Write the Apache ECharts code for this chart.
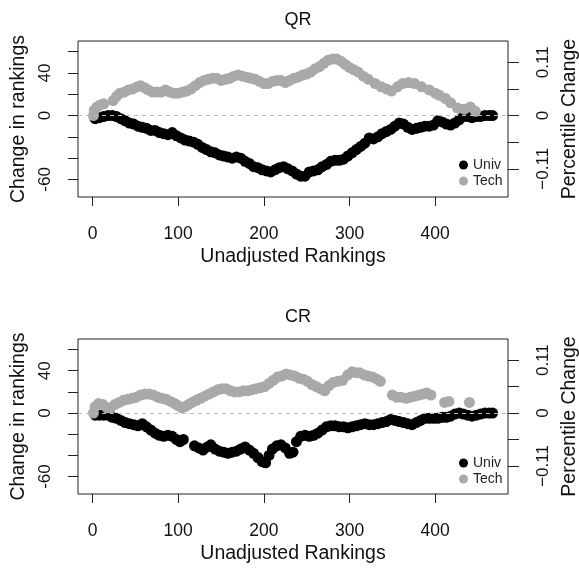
<!DOCTYPE html>
<html>
<head>
<meta charset="utf-8">
<script src="https://cdn.jsdelivr.net/npm/echarts@6/dist/echarts.min.js"></script>
<style>
  html, body { margin: 0; padding: 0; background: #fff; }
  #chart { width: 579px; height: 569px; }
</style>
</head>
<body>
<div id="chart"></div>
<script>
// QR panel
const qrUnivRank = [3, 8, 13, 18, 23, 28, 33, 38, 43, 48, 53, 58, 63, 68, 73, 78, 83, 88, 93, 98, 103, 108, 113, 118, 123, 128, 133, 138, 143, 148, 153, 158, 163, 168, 173, 178, 183, 188, 193, 198, 203, 208, 213, 218, 223, 228, 233, 238, 243, 248, 253, 258, 263, 268, 273, 278, 283, 288, 293, 298, 303, 308, 313, 318, 323, 328, 333, 338, 343, 348, 353, 358, 363, 368, 373, 378, 383, 388, 393, 398, 403, 408, 413, 418, 423, 428, 433, 438, 443, 448, 453, 458, 463, 467]
const qrUnivChange = [-3, -2, -1, 0, 0, -1, -3, -5, -7, -8, -10, -11, -12, -14, -14, -16, -17, -18, -16, -19, -21, -23, -24, -25, -27, -30, -32, -34, -35, -37, -38, -39, -40, -39, -40, -43, -45, -48, -49, -51, -52, -53, -51, -49, -48, -50, -52, -55, -57, -57, -53, -52, -51, -48, -46, -43, -42, -42, -41, -38, -35, -32, -29, -26, -21, -22, -20, -17, -15, -13, -10, -7, -8, -11, -13, -12, -11, -10, -10, -9, -5, -6, -8, -9, -7, -4, -1, -1, -2, -1, -1, 0, 0, 0]
const qrTechRank = [1, 2, 5, 9, 13, 24, 28, 32, 37, 42, 47, 52, 56, 61, 65, 70, 75, 80, 85, 90, 95, 100, 105, 110, 115, 120, 125, 130, 135, 140, 145, 150, 155, 160, 165, 170, 175, 180, 185, 190, 195, 200, 205, 210, 215, 220, 225, 230, 235, 240, 245, 250, 255, 260, 265, 270, 275, 280, 285, 290, 295, 300, 305, 310, 316, 322, 330, 337, 343, 349, 356, 362, 369, 376, 384, 393, 400, 405, 412, 418, 426, 434, 441, 447]
const qrTechChange = [0, 5, 8, 10, 11, 14, 18, 21, 22, 24, 25, 27, 28, 26, 24, 22, 22, 22, 24, 22, 21, 21, 22, 23, 25, 28, 31, 33, 34, 35, 35, 33, 34, 35, 37, 38, 37, 36, 35, 34, 32, 30, 30, 32, 33, 33, 31, 33, 35, 36, 38, 39, 41, 44, 46, 49, 52, 53, 53, 51, 48, 45, 43, 41, 37, 34, 30, 27, 25, 23, 27, 30, 31, 30, 27, 24, 21, 19, 16, 12, 7, 6, 8, 4]

// CR panel
const crUnivRank = [3, 8, 13, 18, 23, 28, 33, 38, 43, 48, 53, 58, 63, 68, 73, 78, 83, 88, 93, 98, 102, 106, 119, 124, 129, 134, 138, 143, 148, 153, 158, 163, 168, 173, 178, 183, 188, 193, 198, 202, 206, 210, 215, 220, 225, 230, 234, 238, 243, 248, 253, 258, 263, 268, 273, 278, 283, 288, 293, 298, 303, 308, 313, 318, 323, 328, 333, 338, 343, 348, 353, 358, 363, 368, 373, 378, 383, 388, 393, 398, 403, 408, 413, 418, 423, 428, 433, 438, 443, 448, 453, 458, 463, 467]
const crUnivChange = [-2, -2, -2, -2, -4, -5, -7, -9, -10, -11, -12, -10, -13, -16, -19, -21, -22, -21, -22, -25, -27, -25, -31, -33, -35, -32, -30, -34, -36, -37, -38, -37, -36, -34, -32, -35, -38, -42, -46, -47, -40, -34, -31, -30, -33, -38, -37, -27, -22, -21, -22, -21, -19, -16, -13, -12, -12, -13, -13, -14, -13, -12, -11, -10, -11, -11, -10, -9, -8, -6, -7, -8, -9, -10, -11, -9, -7, -5, -5, -5, -5, -4, -4, -3, -1, 0, -1, -2, -3, -2, -1, 0, 0, 0]
const crTechRank = [1, 3, 7, 12, 17, 21, 26, 31, 36, 41, 46, 51, 56, 61, 66, 71, 76, 81, 86, 91, 96, 100, 104, 108, 112, 116, 121, 126, 131, 136, 141, 146, 151, 156, 161, 166, 171, 176, 181, 186, 191, 196, 201, 206, 211, 216, 221, 226, 231, 236, 241, 246, 251, 256, 261, 266, 271, 276, 281, 286, 292, 298, 303, 308, 312, 317, 322, 327, 332, 336, 350, 355, 360, 366, 371, 376, 381, 386, 390, 395, 411, 416, 440]
const crTechChange = [0, 6, 9, 8, 5, 5, 8, 10, 12, 13, 14, 15, 17, 18, 18, 17, 15, 14, 13, 11, 9, 7, 5, 6, 8, 10, 12, 14, 16, 18, 20, 22, 23, 23, 21, 20, 20, 21, 21, 22, 23, 24, 25, 28, 31, 34, 35, 37, 36, 35, 33, 32, 30, 27, 25, 23, 21, 26, 29, 30, 31, 36, 39, 38, 38, 36, 35, 34, 32, 30, 17, 15, 15, 14, 15, 16, 17, 18, 19, 17, 10, 11, 10]

// axis ticks and labels
const xTicks = [0, 100, 200, 300, 400]
const leftTicks = [-60, -40, -20, 0, 20, 40, 60]
const leftLabels = [-60, 0, 40]
const rightTicks = [-50, -25, 0, 25, 50]
const rightLabelValues = [-50, 0, 50]
const rightLabelText = ['\u22120.11', '0', '0.11']
const panelTitles = ['QR', 'CR']

const pairs = (xs, ys) => xs.map((x, i) => [x, ys[i]])

const FONT = 'Liberation Sans, Arial, Helvetica, sans-serif'
const GREY = '#a9a9a9'
const grids = [
  { left: 78, top: 41, width: 430, height: 156 },
  { left: 78, top: 339, width: 430, height: 155 }
]

function xAxisFor(i) {
  return {
    type: 'value', gridIndex: i, min: -17, max: 485,
    name: 'Unadjusted Rankings', nameLocation: 'middle', nameGap: 50,
    nameTextStyle: { fontFamily: FONT, fontSize: 19.5, color: '#111' },
    axisLine: { show: false, onZero: false },
    splitLine: { show: false },
    axisTick: { show: true, length: 9, customValues: xTicks, lineStyle: { color: '#222' } },
    axisLabel: { customValues: xTicks, margin: 28, fontFamily: FONT, fontSize: 17.5, color: '#111' }
  }
}

function yAxesFor(i) {
  return [
    {
      type: 'value', gridIndex: i, min: -76.5, max: 70, position: 'left',
      name: 'Change in rankings', nameLocation: 'middle', nameGap: 44,
      nameTextStyle: { fontFamily: FONT, fontSize: 19.5, color: '#111' },
      axisLine: { show: false, onZero: false },
      splitLine: { show: false },
      axisTick: { show: true, length: 10, customValues: leftTicks, lineStyle: { color: '#222' } },
      axisLabel: { customValues: leftLabels, rotate: 90, margin: 24, fontFamily: FONT, fontSize: 17, color: '#111' }
    },
    {
      type: 'value', gridIndex: i, min: -76.5, max: 70, position: 'right',
      name: 'Percentile Change', nameLocation: 'middle', nameGap: 52,
      nameTextStyle: { fontFamily: FONT, fontSize: 19.5, color: '#111' },
      axisLine: { show: false, onZero: false },
      splitLine: { show: false },
      axisTick: { show: true, length: 11, customValues: rightTicks, lineStyle: { color: '#222' } },
      axisLabel: {
        customValues: rightLabelValues, rotate: 90, margin: 27, fontFamily: FONT, fontSize: 17, color: '#111',
        formatter: v => rightLabelText[rightLabelValues.indexOf(v)]
      }
    }
  ]
}

function seriesFor(i, univ, tech) {
  return [
    {
      name: 'Univ', type: 'scatter', xAxisIndex: i, yAxisIndex: i * 2,
      data: univ, symbol: 'circle', symbolSize: 11,
      itemStyle: { color: '#000', opacity: 1 },
      markLine: {
        silent: true, symbol: ['none', 'none'], label: { show: false },
        lineStyle: { type: [4, 4], color: '#bbb', width: 1 },
        data: [{ yAxis: 0 }]
      }
    },
    {
      name: 'Tech', type: 'scatter', xAxisIndex: i, yAxisIndex: i * 2,
      data: tech, symbol: 'circle', symbolSize: 11,
      itemStyle: { color: GREY, opacity: 1 }
    }
  ]
}

const chart = echarts.init(document.getElementById('chart'))
chart.setOption({
  animation: false,
  backgroundColor: '#fff',
  title: panelTitles.map((t, i) => ({
    text: t, left: 293, top: i === 0 ? 6 : 303, textAlign: 'center',
    textStyle: { fontFamily: FONT, fontSize: 18, fontWeight: 'normal', color: '#111' }
  })),
  legend: grids.map(g => ({
    data: ['Univ', 'Tech'], orient: 'vertical', left: 454, top: g.top + 112,
    icon: 'circle', itemWidth: 9, itemHeight: 9, itemGap: 2,
    textStyle: { fontFamily: FONT, fontSize: 14, color: '#222' }
  })),
  grid: grids.map(g => Object.assign({
    show: true, borderColor: '#222', borderWidth: 1, backgroundColor: 'transparent',
    containLabel: false, outerBoundsMode: 'none'
  }, g)),
  xAxis: [xAxisFor(0), xAxisFor(1)],
  yAxis: yAxesFor(0).concat(yAxesFor(1)),
  series: seriesFor(0, pairs(qrUnivRank, qrUnivChange), pairs(qrTechRank, qrTechChange))
    .concat(seriesFor(1, pairs(crUnivRank, crUnivChange), pairs(crTechRank, crTechChange)))
})
</script>
</body>
</html>
